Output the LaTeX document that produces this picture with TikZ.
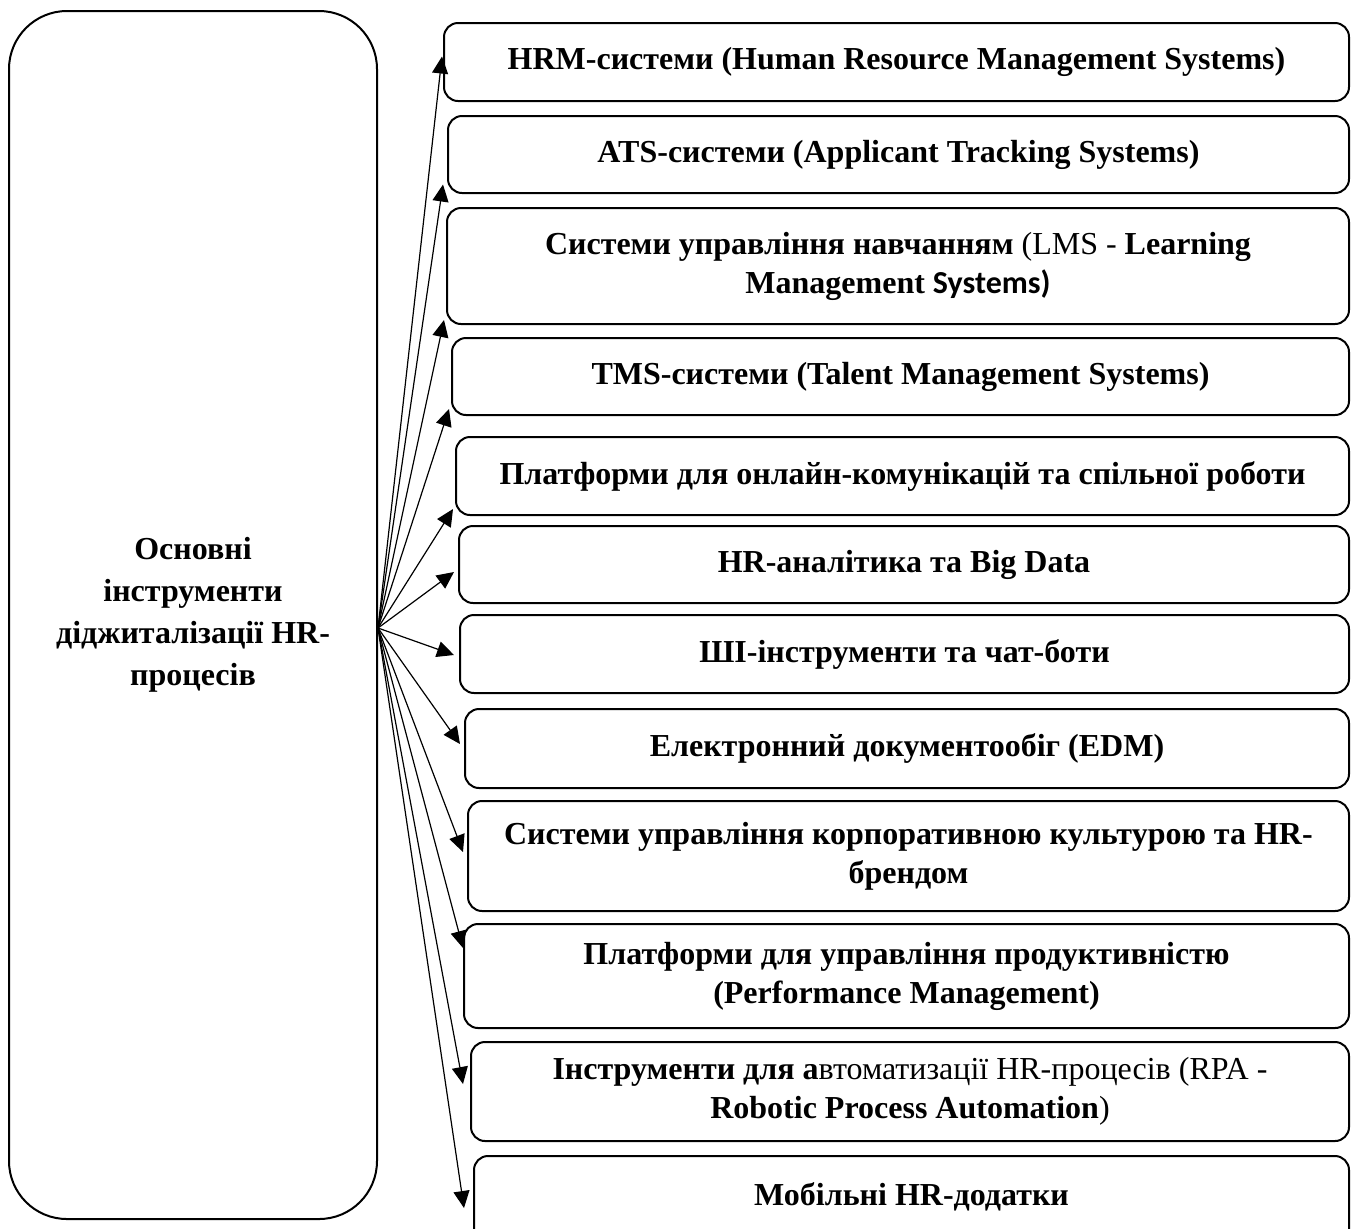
\documentclass[tikz,border=0pt]{standalone}
\usepackage{fontspec}
\setmainfont{Liberation Serif}
\newfontfamily\calibri{Carlito}
\usetikzlibrary{arrows.meta}
\tikzset{>={Triangle[length=8.5pt,width=8pt]}}
\tikzset{toolbox/.style={draw, line width=1pt, rounded corners=7pt, anchor=north west,
                         align=center, inner sep=0pt,
                         font=\fontsize{16pt}{19.5pt}\selectfont\bfseries},
         rootbox/.style={draw, line width=1pt, rounded corners=29pt, anchor=north west,
                         align=center, inner sep=0pt,
                         font=\fontsize{16pt}{21pt}\selectfont\bfseries},
         link/.style={->, line width=0.6pt}}

\begin{document}
\begin{tikzpicture}[x=0.5pt, y=-0.5pt]
\useasboundingbox (0,0) rectangle (1354,1228);
\clip (0,0) rectangle (1354,1228);

\node (root) [rootbox, minimum width=184pt, minimum height=604pt] at (8,10)
      {Основні\\інструменти\\діджиталізації HR-\\процесів};
\coordinate (hub) at ([yshift=-6.5pt]root.east);

\node (hrm)       [toolbox, minimum width=452.5pt, minimum height=39pt]   at (443,22)
      {HRM-системи (Human Resource Management Systems)};
\node (ats)       [toolbox, minimum width=450.5pt, minimum height=38.5pt] at (447,115)
      {ATS-системи (Applicant Tracking Systems)};
\node (lms)       [toolbox, minimum width=451pt,   minimum height=58pt]   at (446,207)
      {Системи управління навчанням \mdseries(LMS - \bfseries Learning\\
       Management {\calibri Systems)}};
\node (tms)       [toolbox, minimum width=448.5pt, minimum height=38.5pt] at (451,337)
      {TMS-системи (Talent Management Systems)};
\node (collab)    [toolbox, minimum width=446.5pt, minimum height=39pt]   at (455,436)
      {Платформи для онлайн-комунікацій та спільної роботи};
\node (analytics) [toolbox, minimum width=445pt,   minimum height=38.5pt] at (458,525)
      {HR-аналітика та Big Data};
\node (ai)        [toolbox, minimum width=444.5pt, minimum height=39pt]   at (459,614)
      {ШІ-інструменти та чат-боти};
\node (edm)       [toolbox, minimum width=442pt,   minimum height=39.5pt] at (464,708)
      {Електронний документообіг (EDM)};
\node (culture)   [toolbox, minimum width=440.5pt, minimum height=55pt]   at (467,800)
      {Системи управління корпоративною культурою та HR-\\брендом};
\node (perf)      [toolbox, minimum width=442.5pt, minimum height=52pt]   at (463,923)
      {Платформи для управління продуктивністю\\(Performance Management)};
\node (rpa)       [toolbox, minimum width=439pt,   minimum height=49.5pt] at (470,1041)
      {Інструменти для а\mdseries втоматизації HR-процесів (RPA -\\
       \bfseries Robotic Process Automation\mdseries)};
\node (mobile)    [toolbox, minimum width=437.5pt, minimum height=45pt]   at (473,1155)
      {\raisebox{7pt}{Мобільні HR-додатки}};

% arrows from the hub to every tool
\foreach \tool/\dx/\dy in {hrm/-1/-5.5, ats/-4/30, lms/-2/54, tms/-2/32.5,
                           collab/-2/33, analytics/-4/7.5, ai/-5/1, edm/-4/-4.5,
                           culture/-4/-4, perf/0/-28, rpa/-7/-7.5, mobile/-9/7}
  \draw [link] (hub) -- ([xshift=\dx*0.5pt, yshift=-\dy*0.5pt]\tool.west);

\end{tikzpicture}
\end{document}
